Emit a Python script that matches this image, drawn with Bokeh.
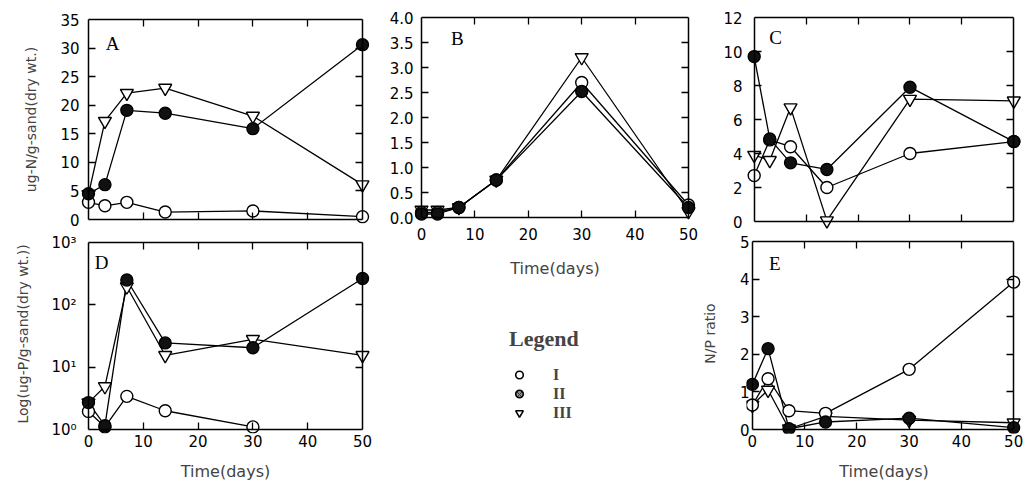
import math
from bokeh.plotting import figure
from bokeh.layouts import row, column
from bokeh.models import (Range1d, FixedTicker, LinearAxis, LogAxis, Label, Legend,
                          LegendItem, ColumnDataSource, CustomJSTickFormatter,
                          PrintfTickFormatter)
from bokeh.embed import file_html
from bokeh.resources import INLINE

nan = float("nan")

# ---------------- data ----------------
days = [0, 3, 7, 14, 30, 50]
x_ticks = [0, 10, 20, 30, 40, 50]
inner_x_ticks = [10, 20, 30, 40]
series_names = ["I", "II", "III"]

# A: ug-N / g-sand (dry wt.)
a_I = [3.0, 2.4, 3.0, 1.3, 1.5, 0.5]
a_II = [4.5, 6.1, 19.1, 18.6, 15.9, 30.6]
a_III = [4.4, 17.2, 22.1, 23.0, 18.1, 6.1]
a_ticks = [0, 5, 10, 15, 20, 25, 30, 35]

# B
b_I = [0.10, 0.10, 0.20, 0.75, 2.70, 0.25]
b_II = [0.07, 0.07, 0.20, 0.75, 2.52, 0.20]
b_III = [0.15, 0.15, 0.20, 0.75, 3.20, 0.12]
b_ticks = [0.0, 0.5, 1.0, 1.5, 2.0, 2.5, 3.0, 3.5, 4.0]

# C
c_I = [2.7, 4.8, 4.4, 2.0, 4.0, 4.7]
c_II = [9.7, 4.86, 3.45, 3.06, 7.9, 4.7]
c_III = [3.9, 3.6, 6.7, 0.05, 7.2, 7.1]
c_ticks = [0, 2, 4, 6, 8, 10, 12]

# D: log(ug-P / g-sand (dry wt.))
d_I = [1.95, 1.1, 3.4, 2.0, 1.1, nan]
d_II = [2.7, 1.15, 250.0, 24.5, 20.5, 265.0]
d_III = [2.7, 4.9, 195.0, 15.5, 28.0, 15.5]
d_ticks = [1, 10, 100, 1000]
d_tick_labels = {1: "10\u2070", 10: "10\u00b9", 100: "10\u00b2", 1000: "10\u00b3"}

# E: N/P ratio
e_I = [0.65, 1.35, 0.50, 0.43, 1.60, 3.92]
e_II = [1.20, 2.15, 0.02, 0.20, 0.30, 0.05]
e_III = [0.65, 1.05, 0.02, 0.35, 0.25, 0.18]
e_ticks = [0, 1, 2, 3, 4, 5]

# ---------------- styling ----------------
SANS = "DejaVu Sans"
SERIF = "Liberation Serif"
TICK_FS = "15px"
LBL_FS = "14px"
TIME_FS = "16px"


def tick_axis(Ax, ticks, loc, bounds):
    """Axis drawn inside the (padded) frame: line + inward ticks, no labels."""
    ax = Ax(ticker=FixedTicker(ticks=ticks), fixed_location=loc, bounds=bounds,
            formatter=CustomJSTickFormatter(code="return ''"))
    ax.major_tick_in = 7
    ax.major_tick_out = 0
    ax.minor_tick_line_color = None
    ax.minor_tick_in = 0
    ax.minor_tick_out = 0
    ax.axis_line_color = "black"
    ax.axis_line_width = 1.5
    ax.major_tick_line_width = 1.3
    ax.major_tick_line_color = "black"
    ax.major_label_text_font_size = "0px"
    ax.major_label_standoff = 0
    return ax


def label_axis(Ax, ticks, standoff):
    """Axis in the border that only carries tick labels and the axis title."""
    ax = Ax(ticker=FixedTicker(ticks=ticks))
    ax.major_tick_in = 0
    ax.major_tick_out = 0
    ax.minor_tick_line_color = None
    ax.minor_tick_in = 0
    ax.minor_tick_out = 0
    ax.major_tick_line_color = None
    ax.axis_line_color = None
    ax.major_label_text_font = SANS
    ax.major_label_text_font_size = TICK_FS
    ax.major_label_text_color = "black"
    ax.major_label_standoff = standoff
    return ax


def make_panel(W, H, box, pads, y0, y1, y_ticks, log=False, x_labels=True,
               y_std=1, x_std=0):
    bl, bt, br, bb = box          # drawn box edges in local px
    pl, pt, pr, pb = pads         # frame padding beyond the box (px)
    bw, bh = br - bl, bb - bt
    xr = Range1d(0 - pl * 50.0 / bw, 50 + pr * 50.0 / bw)
    if log:
        l0, l1 = math.log10(y0), math.log10(y1)
        k = (l1 - l0) / bh
        yr = Range1d(10 ** (l0 - pb * k), 10 ** (l1 + pt * k))
    else:
        k = (y1 - y0) / bh
        yr = Range1d(y0 - pb * k, y1 + pt * k)
    p = figure(width=W, height=H, x_range=xr, y_range=yr,
               y_axis_type="log" if log else "linear",
               x_axis_location=None, y_axis_location=None,
               output_backend="svg", toolbar_location=None,
               min_border_left=bl - pl, min_border_right=W - br - pr,
               min_border_top=bt - pt, min_border_bottom=H - bb - pb)
    p.grid.visible = False
    p.outline_line_color = None
    p.background_fill_color = "white"
    p.border_fill_color = "white"

    YAx = LogAxis if log else LinearAxis
    p.add_layout(tick_axis(LinearAxis, inner_x_ticks, y0, (0, 50)), "below")
    p.add_layout(tick_axis(LinearAxis, inner_x_ticks, y1, (0, 50)), "above")
    p.add_layout(tick_axis(YAx, y_ticks[1:-1], 0, (y0, y1)), "left")
    p.add_layout(tick_axis(YAx, y_ticks[1:-1], 50, (y0, y1)), "right")

    ly = label_axis(YAx, y_ticks, y_std)
    p.add_layout(ly, "left")
    lx = None
    if x_labels:
        lx = label_axis(LinearAxis, x_ticks, x_std)
        p.add_layout(lx, "below")
    return p, lx, ly


def draw(p, y1, y2, y3):
    srcs = [ColumnDataSource(dict(x=days, y=ys)) for ys in (y1, y2, y3)]
    for s in srcs:
        p.line("x", "y", source=s, line_color="black", line_width=1.3)
    p.scatter("x", "y", source=srcs[2], marker="inverted_triangle", size=13,
              fill_color="white", line_color="black", line_width=1.4)
    p.scatter("x", "y", source=srcs[0], marker="circle", size=12,
              fill_color="white", line_color="black", line_width=1.4)
    p.scatter("x", "y", source=srcs[1], marker="circle", size=12,
              fill_color="#111111", line_color="black", line_width=1.4)


def letter(p, txt, x, y):
    p.add_layout(Label(x=x, y=y, text=txt, text_font=SERIF, text_font_size="19px",
                       text_align="center", text_baseline="middle", text_color="black"))


def time_label(ax, standoff):
    ax.axis_label = "Time(days)"
    ax.axis_label_text_font = SANS
    ax.axis_label_text_font_size = TIME_FS
    ax.axis_label_text_font_style = "normal"
    ax.axis_label_standoff = standoff


def y_label(ax, txt, standoff):
    ax.axis_label = txt
    ax.axis_label_text_font = SANS
    ax.axis_label_text_font_size = LBL_FS
    ax.axis_label_text_font_style = "normal"
    ax.axis_label_standoff = standoff


P8 = (8, 8, 8, 8)

# ---------------- panels ----------------
pA, _, yA = make_panel(385, 229, (88, 19, 362, 219), P8, 0, 35, a_ticks,
                       x_labels=False, y_std=1)
draw(pA, a_I, a_II, a_III)
letter(pA, "A", 4.4, 30.8)
y_label(yA, "ug-N/g-sand(dry wt.)", 18)

pD, xD, yD = make_panel(385, 254, (87, 13, 362, 200), (8, 8, 8, 4), 1, 1000, d_ticks,
                        log=True, y_std=4, x_std=1)
yD.major_label_overrides = d_tick_labels
draw(pD, d_I, d_II, d_III)
letter(pD, "D", 2.4, 477)
y_label(yD, "Log(ug-P/g-sand(dry wt.))", 17)
time_label(xD, 12)

pB, xB, yB = make_panel(313, 280, (36, 17, 303, 217), P8, 0, 4, b_ticks,
                        y_std=0, x_std=2)
yB.formatter = PrintfTickFormatter(format="%.1f")
draw(pB, b_I, b_II, b_III)
letter(pB, "B", 6.7, 3.58)
time_label(xB, 16)

pC, _, yC = make_panel(328, 231, (47, 17, 317, 221), P8, 0, 12, c_ticks,
                       x_labels=False, y_std=4)
draw(pC, c_I, c_II, c_III)
letter(pC, "C", 4.1, 10.8)

pE, xE, yE = make_panel(328, 252, (49, 10, 315, 198), (6, 8, 8, 4), 0, 5, e_ticks,
                        y_std=-3, x_std=1)
draw(pE, e_I, e_II, e_III)
letter(pE, "E", 4.3, 4.41)
y_label(yE, "N/P ratio", 19)
time_label(xE, 12)

# ---------------- legend panel ----------------
pL = figure(width=313, height=203, output_backend="svg", toolbar_location=None,
            min_border=0, x_range=Range1d(0, 1), y_range=Range1d(0, 1),
            x_axis_location=None, y_axis_location=None)
pL.grid.visible = False
pL.outline_line_color = None
pL.background_fill_color = "white"
pL.border_fill_color = "white"
off = [5.0]  # legend-only renderers sit outside the visible range
r1 = pL.scatter(x=off, y=off, marker="circle", size=11, fill_color="white",
                line_color="black", line_width=1.6)
r2 = pL.scatter(x=off, y=off, marker="circle", size=11, fill_color="#8f8f8f",
                line_color="black", line_width=1.6, hatch_pattern="x",
                hatch_color="#333333", hatch_scale=5)
r3 = pL.scatter(x=off, y=off, marker="inverted_triangle", size=11, fill_color="white",
                line_color="black", line_width=1.6)
legend = Legend(items=[LegendItem(label=n, renderers=[r]) for n, r in
                       zip(series_names, (r1, r2, r3))],
                title="Legend", location=(96, 61))
legend.title_text_font = SERIF
legend.title_text_font_style = "bold"
legend.title_text_font_size = "22px"
legend.title_standoff = 13
legend.label_text_font = SERIF
legend.label_text_font_size = "16px"
legend.label_text_font_style = "bold"
legend.border_line_color = None
legend.background_fill_alpha = 0
legend.glyph_width = 20
legend.glyph_height = 19
legend.label_height = 19
legend.spacing = 0
legend.padding = 5
legend.margin = 0
legend.label_standoff = 24
pL.add_layout(legend)

layout = row(column(pA, pD), column(pB, pL), column(pC, pE))

open("out.html", "w").write(file_html(layout, INLINE))
